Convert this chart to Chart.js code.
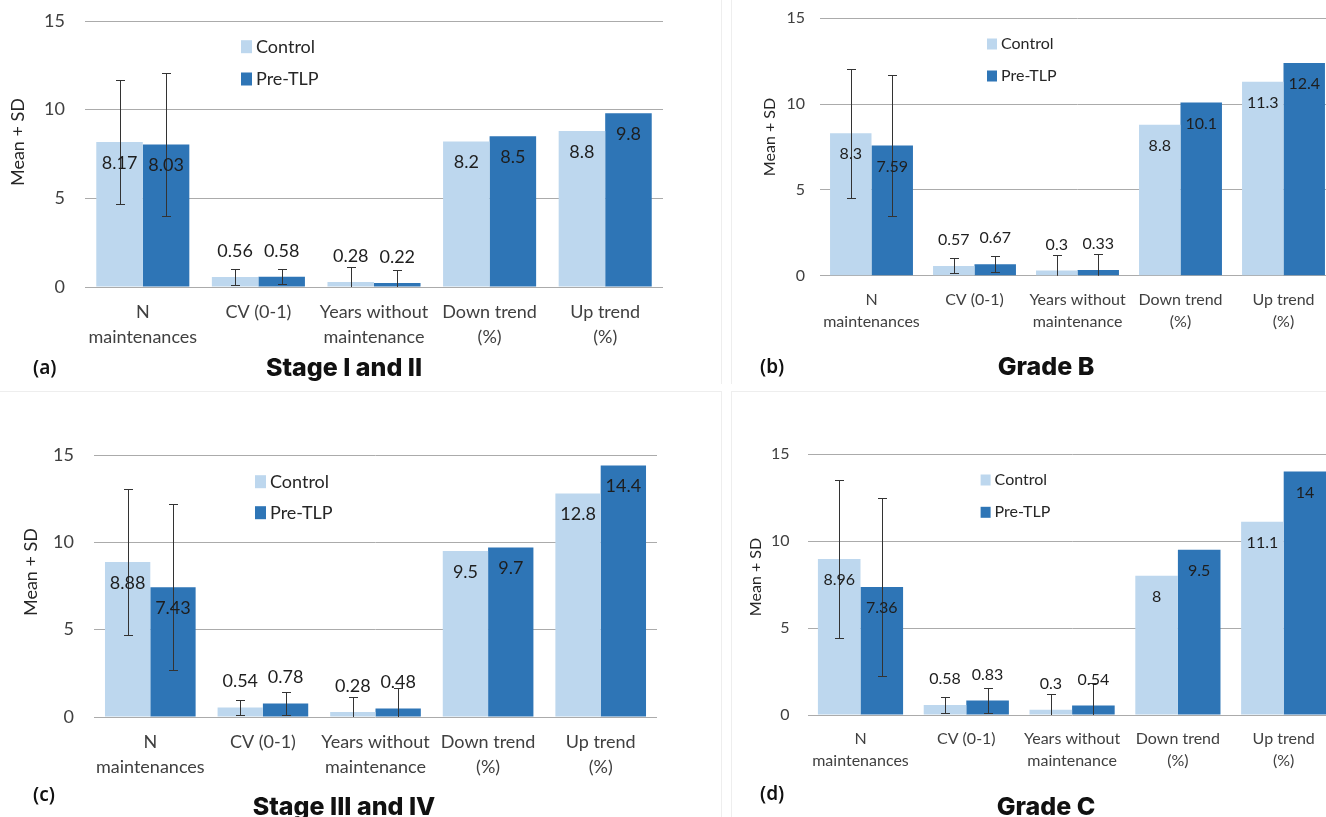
<!DOCTYPE html>
<html><head><meta charset="utf-8">
<script src="https://cdn.jsdelivr.net/npm/chart.js@4/dist/chart.umd.min.js"></script>
<style>
html,body{margin:0;padding:0;background:#fff;width:1326px;height:817px;overflow:hidden;position:relative;font-family:Lato,sans-serif;}
canvas.c{position:absolute;}
.ln{position:absolute;background:#eeeeee;}
.tag{position:absolute;font-family:'Noto Sans',sans-serif;font-weight:600;font-size:19px;color:#111;transform:translateY(-50%);line-height:1;}
.ttl{position:absolute;font-family:Inter,sans-serif;font-weight:800;font-size:25px;color:#111;transform:translate(-50%,-50%);white-space:nowrap;line-height:1;}
</style></head><body>
<div class="ln" style="left:721px;top:0;width:1px;height:384px"></div>
<div class="ln" style="left:731px;top:0;width:1px;height:384px"></div>
<div class="ln" style="left:0;top:391px;width:722px;height:1px"></div>
<div class="ln" style="left:731px;top:391px;width:595px;height:1px"></div>
<div class="ln" style="left:721px;top:392px;width:1px;height:425px"></div>
<div class="ln" style="left:731px;top:392px;width:1px;height:425px"></div>
<script>
// ---------- DATA ----------
const categories = [["N","maintenances"],["CV (0-1)"],["Years without","maintenance"],["Down trend","(%)"],["Up trend","(%)"]];
const seriesNames = ["Control","Pre-TLP"];
const yTicks = [0,5,10,15];
const yAxisTitle = "Mean + SD";
const panelLetters = ["(a)","(b)","(c)","(d)"];
const panelTitles = ["Stage I and II","Grade B","Stage III and IV","Grade C"];

const stageI_II_control   = [8.17,0.56,0.28,8.2,8.8];
const stageI_II_preTLP    = [8.03,0.58,0.22,8.5,9.8];
const stageI_II_controlSD = [3.5,0.44,0.83,null,null];
const stageI_II_preTLPSD  = [4.02,0.41,0.72,null,null];

const gradeB_control   = [8.3,0.57,0.3,8.8,11.3];
const gradeB_preTLP    = [7.59,0.67,0.33,10.1,12.4];
const gradeB_controlSD = [3.76,0.44,0.89,null,null];
const gradeB_preTLPSD  = [4.1,0.46,0.92,null,null];

const stageIII_IV_control   = [8.88,0.54,0.28,9.5,12.8];
const stageIII_IV_preTLP    = [7.43,0.78,0.48,9.7,14.4];
const stageIII_IV_controlSD = [4.16,0.43,0.85,null,null];
const stageIII_IV_preTLPSD  = [4.74,0.64,1.2,null,null];

const gradeC_control   = [8.96,0.58,0.3,8,11.1];
const gradeC_preTLP    = [7.36,0.83,0.54,9.5,14];
const gradeC_controlSD = [4.56,0.47,0.9,null,null];
const gradeC_preTLPSD  = [5.1,0.7,1.3,null,null];

// ---------- STYLE / LAYOUT ----------
const COLORS = ['#BDD7EE','#2E75B6'];
const TEXT = '#404040';
const panels = [
  {ctl:stageI_II_control, pre:stageI_II_preTLP, ctlSD:stageI_II_controlSD, preSD:stageI_II_preTLPSD,
   canvas:{l:0,t:0,w:680,h:360}, plot:{l:85,t:21,r:663,b:287}, fs:18, yTitle:{x:18,y:142}, yTickGap:20,
   legend:{x:241,y:[46.7,79],bw:11,bh:13}, tag:{x:33,y:367}, title:{x:344,y:367}},
  {ctl:gradeB_control, pre:gradeB_preTLP, ctlSD:gradeB_controlSD, preSD:gradeB_preTLPSD,
   canvas:{l:735,t:0,w:600,h:360}, plot:{l:820,t:18.3,r:1335,b:275.7}, fs:16, yTitle:{x:770,y:137}, yTickGap:15,
   legend:{x:987,y:[44,76],bw:10,bh:11}, tag:{x:760,y:366}, title:{x:1046,y:366}},
  {ctl:stageIII_IV_control, pre:stageIII_IV_preTLP, ctlSD:stageIII_IV_controlSD, preSD:stageIII_IV_preTLPSD,
   canvas:{l:0,t:400,w:680,h:417}, plot:{l:94,t:455,r:657,b:717}, fs:18, yTitle:{x:31,y:572}, yTickGap:20,
   legend:{x:255,y:[481.7,512.7],bw:11,bh:13}, tag:{x:33,y:794}, title:{x:344,y:806}},
  {ctl:gradeC_control, pre:gradeC_preTLP, ctlSD:gradeC_controlSD, preSD:gradeC_preTLPSD,
   canvas:{l:735,t:400,w:610,h:417}, plot:{l:807.6,t:454,r:1336.6,b:715}, fs:16, yTitle:{x:756,y:577}, yTickGap:18,
   legend:{x:980.6,y:[480,512.3],bw:10,bh:11}, tag:{x:760,y:793}, title:{x:1046,y:806}}
];

// ---------- PLUGINS ----------
const errorBars = {
  id:'errorBars',
  afterDatasetsDraw(chart){
    const {ctx, chartArea:a, scales:{y}} = chart;
    ctx.save();
    ctx.beginPath(); ctx.rect(a.left, a.top-20, a.right-a.left, a.bottom-a.top+20); ctx.clip();
    ctx.strokeStyle = '#333'; ctx.lineWidth = 1;
    chart.data.datasets.forEach((ds,i)=>{
      chart.getDatasetMeta(i).data.forEach((bar,j)=>{
        const sd = ds.sd[j]; if (sd == null) return;
        const v = ds.data[j];
        const x = Math.round(bar.x)+0.5;
        const yt = Math.round(y.getPixelForValue(v+sd))+0.5;
        const yb = Math.round(y.getPixelForValue(v-sd))+0.5;
        ctx.beginPath();
        ctx.moveTo(x,yt); ctx.lineTo(x,yb);
        ctx.moveTo(x-4.5,yt); ctx.lineTo(x+4.5,yt);
        ctx.moveTo(x-4.5,yb); ctx.lineTo(x+4.5,yb);
        ctx.stroke();
      });
    });
    ctx.restore();
  }
};
const valueLabels = {
  id:'valueLabels',
  afterDatasetsDraw(chart, args, opts){
    const {ctx} = chart;
    ctx.save();
    ctx.font = opts.fs + 'px Lato';
    ctx.fillStyle = '#1e1e1e';
    ctx.textAlign = 'center'; ctx.textBaseline = 'middle';
    chart.data.datasets.forEach((ds,i)=>{
      chart.getDatasetMeta(i).data.forEach((bar,j)=>{
        const v = ds.data[j];
        const yy = v < 2 ? bar.y - 26 : bar.y + 21;
        ctx.fillText(String(v), bar.x, yy);
      });
    });
    ctx.restore();
  }
};
const innerLegend = {
  id:'innerLegend',
  afterDraw(chart, args, o){
    const {ctx} = chart;
    ctx.save();
    ctx.font = o.fs + 'px Lato';
    ctx.textAlign = 'left'; ctx.textBaseline = 'middle';
    chart.data.datasets.forEach((ds,i)=>{
      const x = o.x, y = o.y[i];
      ctx.fillStyle = ds.backgroundColor;
      ctx.fillRect(x, y - o.bh/2, o.bw, o.bh);
      ctx.fillStyle = '#262626';
      ctx.fillText(ds.label, x + o.bw + 4, y);
    });
    ctx.restore();
  }
};
const axisTitle = {
  id:'axisTitle',
  afterDraw(chart, args, o){
    const {ctx} = chart;
    ctx.save();
    ctx.translate(o.x, o.y);
    ctx.rotate(-Math.PI/2);
    ctx.font = o.fs + 'px Lato';
    ctx.fillStyle = '#262626';
    ctx.textAlign = 'center'; ctx.textBaseline = 'middle';
    ctx.fillText(o.text, 0, 0);
    ctx.restore();
  }
};

// ---------- BUILD ----------
panels.forEach((p, k)=>{
  const cv = document.createElement('canvas');
  cv.className = 'c';
  cv.width = p.canvas.w; cv.height = p.canvas.h;
  cv.style.left = p.canvas.l + 'px'; cv.style.top = p.canvas.t + 'px';
  cv.style.width = p.canvas.w + 'px'; cv.style.height = p.canvas.h + 'px';
  document.body.appendChild(cv);

  const yWidth = p.plot.l - p.canvas.l;
  const xHeight = p.canvas.t + p.canvas.h - p.plot.b;
  const lh = 1.38;
  const xTickPad = 13;

  new Chart(cv, {
    type:'bar',
    data:{
      labels: categories,
      datasets:[
        {label:seriesNames[0], data:p.ctl, sd:p.ctlSD, backgroundColor:COLORS[0], borderWidth:0},
        {label:seriesNames[1], data:p.pre, sd:p.preSD, backgroundColor:COLORS[1], borderWidth:0}
      ]
    },
    options:{
      responsive:false, animation:false, devicePixelRatio:1,
      layout:{padding:{left:0, top:p.plot.t - p.canvas.t, right:p.canvas.l + p.canvas.w - p.plot.r, bottom:0}},
      datasets:{bar:{categoryPercentage:0.805, barPercentage:1}},
      plugins:{
        legend:{display:false}, tooltip:{enabled:false},
        valueLabels:{fs:p.fs},
        innerLegend:{fs:p.fs, x:p.legend.x - p.canvas.l, y:p.legend.y.map(v=>v - p.canvas.t), bw:p.legend.bw, bh:p.legend.bh},
        axisTitle:{fs:p.fs, text:yAxisTitle, x:p.yTitle.x - p.canvas.l, y:p.yTitle.y - p.canvas.t}
      },
      scales:{
        x:{
          grid:{display:false, drawTicks:false}, border:{display:false},
          ticks:{font:{family:'Lato', size:p.fs, lineHeight:lh}, color:TEXT, padding:xTickPad, maxRotation:0, minRotation:0, autoSkip:false},
          afterFit(s){ s.height = xHeight; }
        },
        y:{
          min:0, max:15,
          afterBuildTicks(s){ s.ticks = yTicks.map(v=>({value:v})); },
          grid:{color:'#ababab', lineWidth:1, drawTicks:true, tickLength:p.yTickGap, tickColor:'rgba(0,0,0,0)'}, border:{display:false},
          ticks:{font:{family:'Lato', size:p.fs}, color:TEXT, padding:0},
          title:{display:false},
          afterFit(s){ s.width = yWidth; }
        }
      }
    },
    plugins:[errorBars, valueLabels, innerLegend, axisTitle]
  });

  const tg = document.createElement('div');
  tg.className = 'tag'; tg.textContent = panelLetters[k];
  tg.style.left = p.tag.x + 'px'; tg.style.top = p.tag.y + 'px';
  document.body.appendChild(tg);
  const tt = document.createElement('div');
  tt.className = 'ttl'; tt.textContent = panelTitles[k];
  tt.style.left = p.title.x + 'px'; tt.style.top = p.title.y + 'px';
  document.body.appendChild(tt);
});
</script>
</body></html>
